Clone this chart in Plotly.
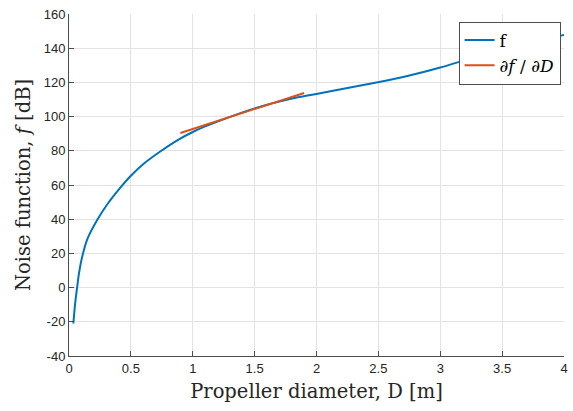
import plotly.graph_objects as go

# Noise function curve f(D)
D = [0.035, 0.05, 0.068, 0.081, 0.108, 0.149, 0.23, 0.311, 0.405, 0.5,
     0.608, 0.743, 0.878, 1.0, 1.095, 1.2, 1.475, 1.7, 1.85, 2.01,
     2.25, 2.506, 2.75, 3.0, 3.126, 3.4, 3.7, 3.94, 4.0]
f = [-21, -9, 1.5, 8.5, 18.5, 28.5, 39.8, 48.9, 57.6, 65.4,
     72.7, 79.9, 86.3, 91.0, 94.1, 97.1, 104.2, 108.8, 111.3, 113.4,
     116.7, 120.2, 124.0, 128.7, 131.4, 137.0, 142.8, 146.9, 147.8]

# Tangent line (derivative)
D_tan = [0.9, 1.9]
f_tan = [90.4, 113.8]

x_ticks = [0, 0.5, 1, 1.5, 2, 2.5, 3, 3.5, 4]
x_labels = ["0", "0.5", "1", "1.5", "2", "2.5", "3", "3.5", "4"]
y_ticks = [-40, -20, 0, 20, 40, 60, 80, 100, 120, 140, 160]
y_labels = ["-40", "-20", "0", "20", "40", "60", "80", "100", "120", "140", "160"]

fig = go.Figure()
fig.add_trace(go.Scatter(x=D, y=f, mode="lines", name="f",
                         line=dict(color="#0072BD", width=2, shape="spline",
                                   smoothing=0.7)))
fig.add_trace(go.Scatter(x=D_tan, y=f_tan, mode="lines",
                         name="∂<i>f</i> / ∂<i>D</i>",
                         line=dict(color="#D95319", width=2)))

axis_common = dict(showgrid=True, gridcolor="#e3e3e3", gridwidth=1,
                   zeroline=False, showline=True, linecolor="#4d4d4d",
                   linewidth=1, ticks="inside", ticklen=5, tickcolor="#4d4d4d",
                   tickfont=dict(family="Liberation Sans, Arial", size=13,
                                 color="#262626"),
                   mirror=False)

title_font = dict(family="DejaVu Serif, serif", size=19.5, color="#262626")

fig.update_layout(
    width=573, height=411,
    margin=dict(l=69, r=5, t=14, b=55),
    paper_bgcolor="white", plot_bgcolor="white",
    xaxis=dict(range=[0, 4], tickvals=x_ticks, ticktext=x_labels,
               title=dict(text="Propeller diameter, D [m]", standoff=9,
                          font=title_font),
               **axis_common),
    yaxis=dict(range=[-40, 160], tickvals=y_ticks, ticktext=y_labels,
               title=dict(text="Noise function, <i>f</i> [dB]", standoff=7,
                          font=title_font),
               **axis_common),
    legend=dict(x=0.787, y=0.978, xanchor="left", yanchor="top",
                bgcolor="white", bordercolor="#4d4d4d", borderwidth=1,
                font=dict(family="DejaVu Serif, serif",
                          size=17, color="#000000"),
                tracegroupgap=0, itemwidth=30),
    showlegend=True,
)

fig.write_html("out.html")
